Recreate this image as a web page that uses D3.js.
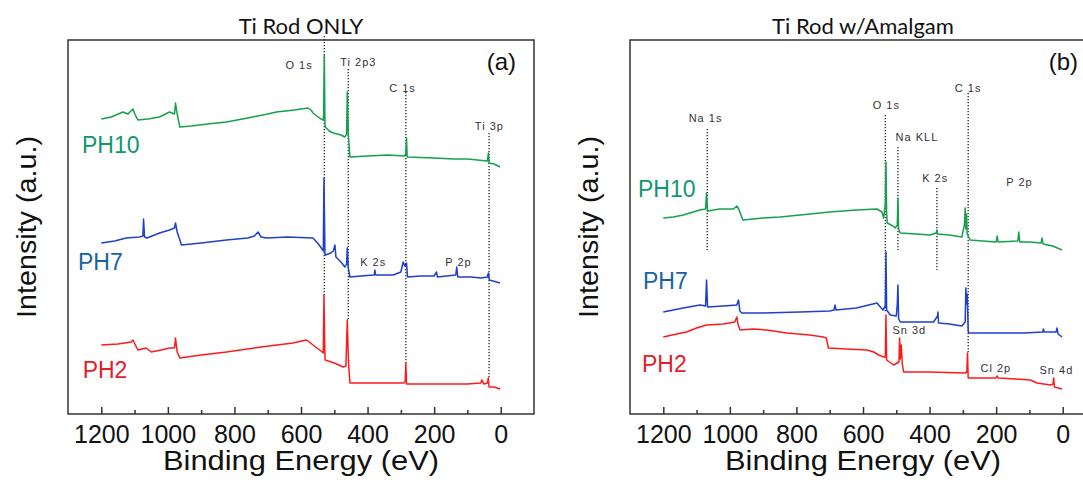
<!DOCTYPE html>
<meta charset="utf-8">
<head>
<style>
body { margin: 0; background: #fff; }
svg { display: block; }
.axis line { stroke: #333; stroke-width: 1.5px; }
.axis path { display: none; }
.axis text { font: 25px "Liberation Sans", Arial, sans-serif; fill: #111; }
.frame { fill: none; stroke: #333; stroke-width: 1.5px; }
.note { font: 11px "Liberation Sans", Arial, sans-serif; fill: #333; letter-spacing: 1px; }
.title { font: 22px Lato, "Open Sans", sans-serif; fill: #111; }
.tag { font: 24px "Liberation Sans", Arial, sans-serif; fill: #111; }
.ph { font: 23px "Liberation Sans", Arial, sans-serif; }
.xlab, .ylab { font: 27px "Liberation Sans", Arial, sans-serif; fill: #111; }
.peak { stroke: #222; stroke-width: 1.3px; stroke-dasharray: 1.2,1.8; }
.spec { fill: none; stroke-width: 1.5px; stroke-linejoin: round; }
</style>
<script src="https://d3js.org/d3.v7.min.js"></script>
</head>
<body>
<svg width="1083" height="480"></svg>
<script>

var majorTicks = [1200, 1000, 800, 600, 400, 200, 0];
var minorTicks = [1100, 900, 700, 500, 300, 100];

// panel (a) Ti rod only : [binding energy eV, intensity a.u.]
var aPH10 = [[1200,295],[1170,297],[1135,302],[1120,300],[1105,305],[1098,299],[1090,294],[1060,295],[1025,297],[995,302],[980,300],[977,311],[972,300],[964,287],[930,288],[880,290],[824,292],[760,296],[700,300],[674,302],[620,304],[579,306],[570,304],[564,301],[540,295],[533,294],[532,300],[530,359],[528,290],[527,287],[515,283],[503,281],[480,279],[468,277],[463,280],[461,322],[458,280],[453,257],[400,258],[340,259],[290,258],[285,260],[283,276],[281,257],[200,256],[140,255],[100,255],[40,253],[37,261],[35,251],[20,250],[2,247]];
var aPH7 = [[1200,171],[1160,173],[1125,176],[1085,177],[1075,178],[1073,195],[1070,177],[1063,176],[1040,179],[1025,181],[995,184],[980,186],[977,191],[972,182],[959,169],[900,171],[824,174],[760,176],[740,178],[729,182],[720,177],[704,176],[640,177],[564,176],[550,171],[539,166],[533,163],[531,236],[528,160],[527,159],[510,161],[503,163],[498,169],[495,157],[480,152],[468,147],[463,150],[461,166],[458,146],[453,137],[420,138],[380,139],[378,144],[376,139],[323,139],[300,142],[293,152],[288,148],[283,151],[280,137],[240,138],[200,138],[193,142],[190,137],[135,139],[132,147],[129,137],[90,137],[60,136],[40,137],[37,141],[34,134],[2,131]];
var aPH2 = [[1200,69],[1150,70],[1110,72],[1105,74],[1090,64],[1065,66],[1050,62],[1020,64],[995,66],[980,66],[977,76],[972,62],[964,56],[900,59],[824,62],[720,67],[624,71],[584,74],[575,72],[564,69],[540,63],[533,61],[531,119],[528,56],[527,54],[500,51],[473,47],[465,48],[461,94],[459,70],[457,50],[453,31],[380,31],[290,31],[287,33],[285,51],[283,30],[200,30],[100,30],[60,31],[57,34],[50,30],[40,31],[37,36],[35,27],[20,27],[2,25]];

// panel (b) Ti rod with amalgam
var bPH10 = [[1200,196],[1170,197],[1140,199],[1090,204],[1073,205],[1070,221],[1067,203],[1030,205],[989,205],[979,208],[972,204],[961,194],[900,196],[850,197],[789,199],[700,202],[620,204],[558,205],[543,202],[538,196],[533,210],[531,252],[529,200],[527,191],[510,188],[503,186],[497,189],[495,216],[493,185],[488,181],[440,180],[398,179],[380,181],[378,184],[376,180],[340,179],[303,177],[295,190],[293,206],[291,185],[289,200],[287,180],[278,174],[240,173],[200,172],[197,178],[194,172],[135,173],[132,182],[129,172],[100,172],[65,171],[62,176],[59,170],[30,168],[2,164]];
var bPH7 = [[1200,102],[1170,104],[1140,106],[1090,109],[1073,108],[1070,134],[1067,107],[1020,108],[979,109],[976,112],[974,114],[970,103],[964,101],[900,101],[789,102],[700,103],[687,104],[684,109],[681,104],[620,106],[558,111],[540,104],[533,108],[531,162],[529,104],[518,99],[500,98],[497,110],[495,129],[493,95],[488,92],[440,92],[388,92],[376,98],[375,102],[373,91],[340,90],[303,88],[293,92],[291,126],[289,110],[287,120],[284,85],[283,81],[200,81],[117,81],[60,82],[58,85],[56,82],[20,82],[17,86],[14,80],[2,77]];
var bPH2 = [[1200,77],[1160,80],[1130,82],[1100,86],[1070,89],[1020,90],[985,92],[979,97],[975,89],[969,84],[930,85],[889,84],[829,81],[760,79],[719,77],[710,76],[704,66],[650,65],[588,64],[568,62],[553,59],[538,57],[533,57],[531,99],[529,54],[508,49],[492,52],[490,76],[488,55],[485,69],[482,50],[478,42],[400,42],[293,41],[288,42],[286,61],[284,36],[200,36],[197,38],[194,36],[140,35],[97,34],[77,31],[37,29],[29,30],[27,36],[25,27],[2,25]];

// peak markers [eV, top, bottom] and their names
var aPeakE = [530, 458, 285, 35];
var aPeakTop = [378, 345, 322, 281];
var aPeakBot = [117, 94, 51, 36];
var bPeakE = [1068, 533, 495, 378, 284];
var bPeakTop = [285, 299, 267, 226, 321];
var bPeakBot = [164, 101, 164, 144, 61];

var aNotes = ["O 1s", "Ti 2p3", "C 1s", "Ti 3p", "K 2s", "P 2p"];
var aNoteE = [565, 482, 295, 34, 383, 127];
var aNoteI = [345, 348, 322, 284, 148, 148];
var bNotes = ["Na 1s", "O 1s", "Na KLL", "C 1s", "K 2s", "P 2p", "Sn 3d", "Cl 2p", "Sn 4d"];
var bNoteE = [1073, 530, 438, 284, 383, 130, 461, 201, 19];
var bNoteI = [292, 305, 273, 322, 232, 228, 80, 42, 40];

var svg = d3.select("svg");

var yTop = 40, yBottom = 414;
var y = d3.scaleLinear().domain([0, 374]).range([yBottom, yTop]);

var panels = [
  { x0: 68, x1: 534, title: "Ti Rod ONLY", tag: "(a)",
    series: [
      { name: "PH10", data: aPH10, line: "#15a04e", text: "#0f9770", lx: 1258, ly: 261 },
      { name: "PH7", data: aPH7, line: "#1f3fce", text: "#1463a8", lx: 1270, ly: 144 },
      { name: "PH2", data: aPH2, line: "#ff1a1a", text: "#e3202a", lx: 1256, ly: 36 }
    ],
    peakE: aPeakE, peakTop: aPeakTop, peakBot: aPeakBot,
    notes: aNotes, noteE: aNoteE, noteI: aNoteI, noteAnchor: ["end", "start"] },
  { x0: 630, x1: 1096, title: "Ti Rod w/Amalgam", tag: "(b)",
    series: [
      { name: "PH10", data: bPH10, line: "#15a04e", text: "#0f9770", lx: 1276, ly: 217 },
      { name: "PH7", data: bPH7, line: "#1f3fce", text: "#1463a8", lx: 1261, ly: 125 },
      { name: "PH2", data: bPH2, line: "#ff1a1a", text: "#e3202a", lx: 1264, ly: 42 }
    ],
    peakE: bPeakE, peakTop: bPeakTop, peakBot: bPeakBot,
    notes: bNotes, noteE: bNoteE, noteI: bNoteI, noteAnchor: [] }
];

panels.forEach(function(p) {
  var x = d3.scaleLinear().domain([1300, -100]).range([p.x0, p.x1]);
  var g = svg.append("g");
  var mid = (p.x0 + p.x1) / 2;

  g.append("text").attr("class", "title")
    .attr("x", mid).attr("y", 34)
    .attr("text-anchor", "middle")
    .text(p.title);

  g.append("rect").attr("class", "frame")
    .attr("x", p.x0).attr("y", yTop)
    .attr("width", p.x1 - p.x0).attr("height", yBottom - yTop);

  // dotted peak markers
  g.selectAll(".peak").data(p.peakE).enter().append("line")
    .attr("class", "peak")
    .attr("x1", d => x(d)).attr("x2", d => x(d))
    .attr("y1", (d, i) => y(p.peakTop[i]))
    .attr("y2", (d, i) => y(p.peakBot[i]));

  var line = d3.line().x(d => x(d[0])).y(d => y(d[1]));

  p.series.forEach(function(s) {
    g.append("path").attr("class", "spec")
      .attr("stroke", s.line)
      .attr("d", line(s.data));
    g.append("text").attr("class", "ph")
      .attr("x", x(s.lx)).attr("y", y(s.ly))
      .attr("fill", s.text)
      .text(s.name);
  });

  g.selectAll(".note").data(p.notes).enter().append("text")
    .attr("class", "note")
    .attr("x", (d, i) => x(p.noteE[i])).attr("y", (d, i) => y(p.noteI[i]))
    .attr("text-anchor", (d, i) => p.noteAnchor[i] || "middle")
    .text(d => d);

  g.append("text").attr("class", "tag")
    .attr("x", p.x1 - 18).attr("y", 70)
    .attr("text-anchor", "end")
    .text(p.tag);

  g.append("g").attr("class", "axis")
    .attr("transform", "translate(0," + yBottom + ")")
    .call(d3.axisBottom(x).tickValues(majorTicks).tickSizeInner(-7).tickSizeOuter(0)
      .tickPadding(11).tickFormat(d3.format("d")));

  g.append("g").attr("class", "axis")
    .attr("transform", "translate(0," + yBottom + ")")
    .call(d3.axisBottom(x).tickValues(minorTicks).tickSizeInner(-4).tickSizeOuter(0).tickFormat(""));

  g.append("text").attr("class", "xlab")
    .attr("x", mid).attr("y", 470)
    .attr("text-anchor", "middle")
    .attr("textLength", 276).attr("lengthAdjust", "spacingAndGlyphs")
    .text("Binding Energy (eV)");

  g.append("text").attr("class", "ylab")
    .attr("transform", "translate(" + (p.x0 - 32) + "," + ((yTop + yBottom) / 2) + ") rotate(-90)")
    .attr("text-anchor", "middle")
    .attr("textLength", 182).attr("lengthAdjust", "spacingAndGlyphs")
    .text("Intensity (a.u.)");
});

</script>
</body>
